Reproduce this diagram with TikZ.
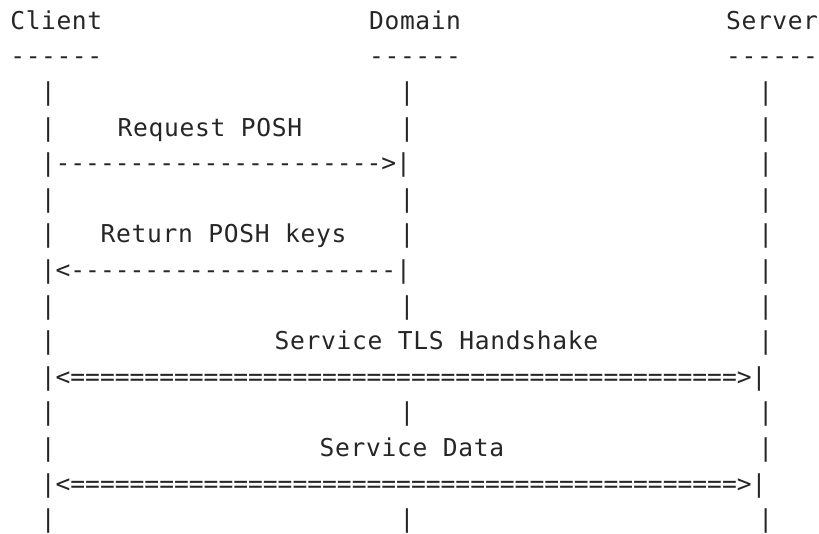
\documentclass[tikz,border=0pt]{standalone}
\usepackage{fontspec}
\newfontfamily\asciimono{DejaVu Sans Mono}
\newfontfamily\asciimonols{DejaVu Sans Mono}[LetterSpace=2.8]
\newfontfamily\asciimonohd{DejaVu Sans Mono}[LetterSpace=2.4]
\begin{document}
\begin{tikzpicture}[x=1pt,y=-1pt]
\useasboundingbox (0,0) rectangle (819,533);
\def\gx{10.9}\def\gw{14.95}\def\gy{29.3}\def\gh{35.6}
\tikzset{
  txt/.style={anchor=base west, inner sep=0pt, outer sep=0pt,
    font=\asciimono\fontsize{24.6}{24.6}\selectfont, text=black!85},
  wide/.style={txt, font=\asciimonols\fontsize{24.6}{24.6}\selectfont},
  head/.style={txt, font=\asciimonohd\fontsize{24.6}{24.6}\selectfont},
}
\newcommand\chunk[4]{\node[txt] (#1) at ({\gx+#2*\gw},{\gy+(#3-1)*\gh}) {#4};}
\newcommand\hchunk[4]{\node[head] (#1) at (#2,{\gy+(#3-1)*\gh}) {#4};}
\newcommand\lab[4]{\node[wide] (#1) at (#2,{\gy+(#3-1)*\gh}) {#4};}
% header
\hchunk{client}{10.4}{1}{Client}
\hchunk{domain}{369.2}{1}{Domain}
\hchunk{server}{726.2}{1}{Server}
\hchunk{uc}{10.4}{2}{------}
\hchunk{ud}{369.2}{2}{------}
\hchunk{us}{726.2}{2}{------}
% pipe rows
\foreach \r in {3,4,6,7,9,12,15}{
  \chunk{pc\r}{2}{\r}{|}
  \chunk{pd\r}{26}{\r}{|}
  \chunk{ps\r}{50}{\r}{|}
}
\foreach \r in {10,13}{
  \chunk{pc\r}{2}{\r}{|}
  \chunk{ps\r}{50}{\r}{|}
}
\foreach \r in {5,8}{
  \chunk{ps\r}{50}{\r}{|}
}
% labels
\lab{req}{117.6}{4}{Request POSH}
\lab{ret}{100.6}{7}{Return POSH keys}
\lab{tls}{274.7}{10}{Service TLS Handshake}
\lab{data}{319.7}{13}{Service Data}
% arrows
\chunk{a1}{2}{5}{|---------------------->|}
\chunk{a2}{2}{8}{|<----------------------|}
\chunk{a3}{2}{11}{|<=============================================>|}
\chunk{a4}{2}{14}{|<=============================================>|}
\end{tikzpicture}
\end{document}
